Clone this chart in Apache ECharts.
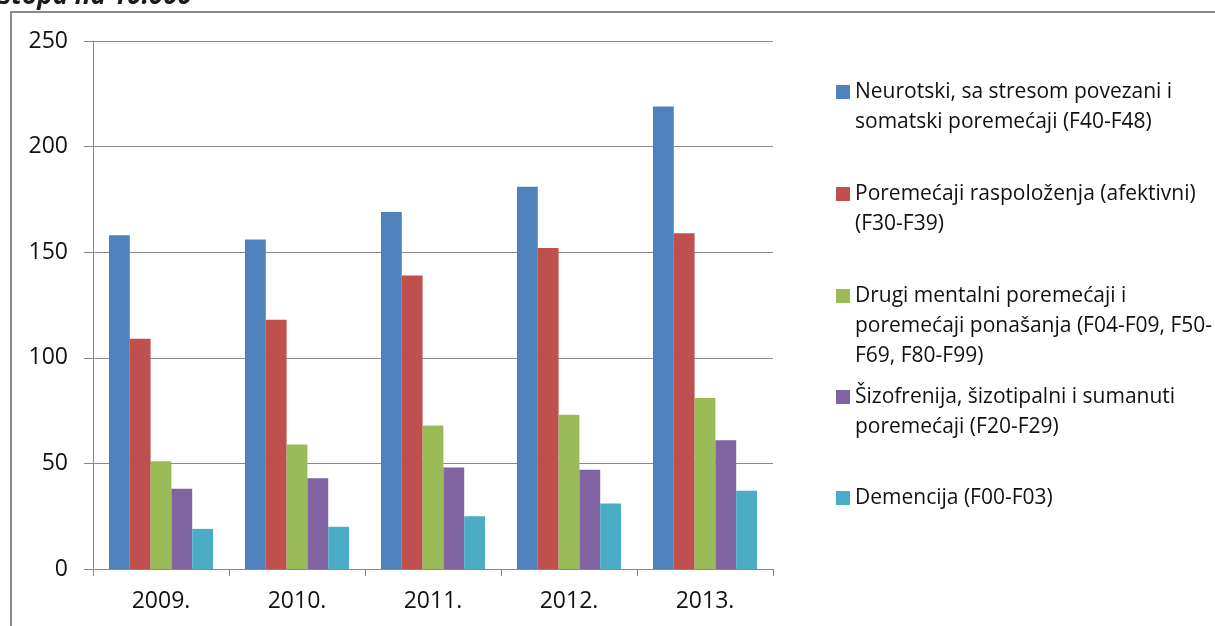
<!DOCTYPE html>
<html>
<head>
<meta charset="utf-8">
<script src="https://cdn.jsdelivr.net/npm/echarts@6/dist/echarts.min.js"></script>
<style>
html,body{margin:0;padding:0;background:#fff;}
#chart{width:1215px;height:626px;}
</style>
</head>
<body>
<div id="chart"></div>
<script>
const categories = ['2009.', '2010.', '2011.', '2012.', '2013.'];
const seriesNames = [
  'Neurotski, sa stresom povezani i\nsomatski poremećaji (F40-F48)',
  'Poremećaji raspoloženja (afektivni)\n(F30-F39)',
  'Drugi mentalni poremećaji i\nporemećaji ponašanja (F04-F09, F50-\nF69, F80-F99)',
  'Šizofrenija, šizotipalni i sumanuti\nporemećaji (F20-F29)',
  'Demencija (F00-F03)'
];
const neurotski = [158, 156, 169, 181, 219];
const afektivni = [109, 118, 139, 152, 159];
const drugi = [51, 59, 68, 73, 81];
const sizofrenija = [38, 43, 48, 47, 61];
const demencija = [19, 20, 25, 31, 37];
const yTicks = [0, 50, 100, 150, 200, 250];
const titleText = 'stopa na 10.000';

const colors = ['#4F81BD', '#C0504D', '#9BBB59', '#8064A2', '#4BACC6'];
const values = [neurotski, afektivni, drugi, sizofrenija, demencija];
const fontFamily = '"Open Sans", "Noto Sans", sans-serif';
const textColor = '#111';
const lineH = 30;
const firstLineCenters = [92, 194, 296, 397, 498];

const chart = echarts.init(document.getElementById('chart'), null, {renderer: 'canvas'});

const legends = seriesNames.map((name, i) => {
  const L = name.split('\n').length;
  const total = 2 * L - 1;
  return {
    show: true,
    orient: 'vertical',
    left: 836,
    top: firstLineCenters[i] - total * lineH / 2,
    padding: 0,
    itemWidth: 14,
    itemHeight: 14,
    icon: 'rect',
    selectedMode: false,
    data: [name],
    formatter: function (n) {
      return '\n'.repeat(L - 1) + n;
    },
    textStyle: {
      fontFamily: fontFamily,
      fontSize: 21,
      color: textColor,
      lineHeight: lineH
    }
  };
});

const option = {
  animation: false,
  backgroundColor: '#fff',
  color: colors,
  graphic: [
    {
      type: 'rect',
      shape: {x: 11, y: 12, width: 1400, height: 800},
      style: {fill: 'none', stroke: '#8a8a8a', lineWidth: 2},
      silent: true
    },
    {
      type: 'text',
      x: -1,
      y: 10,
      style: {
        text: titleText,
        fontFamily: fontFamily,
        fontSize: 26,
        fontStyle: 'italic',
        fontWeight: 'bold',
        fill: '#1a1a1a',
        verticalAlign: 'bottom'
      },
      silent: true
    }
  ],
  legend: legends,
  grid: {
    left: 93,
    right: 442,
    top: 41,
    bottom: 57,
    containLabel: false
  },
  xAxis: {
    type: 'category',
    data: categories,
    axisLine: {show: true, lineStyle: {color: '#868686', width: 1}},
    axisTick: {show: true, alignWithLabel: false, length: 7, lineStyle: {color: '#868686'}},
    axisLabel: {
      fontFamily: fontFamily,
      fontSize: 23,
      color: textColor,
      margin: 21
    },
    splitLine: {show: false}
  },
  yAxis: {
    type: 'value',
    min: yTicks[0],
    max: yTicks[yTicks.length - 1],
    interval: yTicks[1] - yTicks[0],
    axisLine: {show: true, lineStyle: {color: '#868686', width: 1}},
    axisTick: {show: true, inside: false, length: 9, lineStyle: {color: '#868686'}},
    axisLabel: {
      fontFamily: fontFamily,
      fontSize: 23,
      color: textColor,
      margin: 25
    },
    splitLine: {show: true, lineStyle: {color: '#8c8c8c', width: 1}}
  },
  series: seriesNames.map((name, i) => ({
    name: name,
    type: 'bar',
    data: values[i],
    barGap: '0%',
    barCategoryGap: '23.5%',
    itemStyle: {color: colors[i]}
  }))
};

chart.setOption(option);
</script>
</body>
</html>
